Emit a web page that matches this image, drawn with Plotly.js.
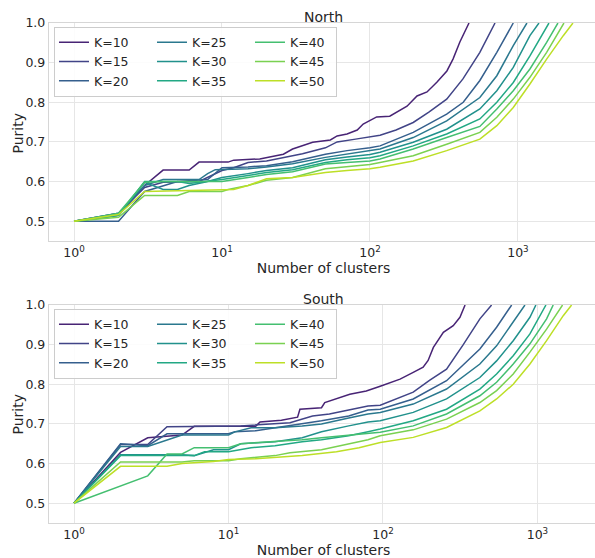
<!DOCTYPE html>
<html>
<head>
<meta charset="utf-8">
<script src="https://cdn.plot.ly/plotly-3.0.1.min.js"></script>
<style>
html,body{margin:0;padding:0;overflow:hidden;background:#fff;}
#chart{width:600px;height:558px;}
</style>
</head>
<body>
<div id="chart"></div>
<script>
// ---------- data ----------
const kLabels = ['K=10','K=15','K=20','K=25','K=30','K=35','K=40','K=45','K=50'];
const xTickVals = [1, 10, 100, 1000];
const xTickText = ['10<sup>0</sup>', '10<sup>1</sup>', '10<sup>2</sup>', '10<sup>3</sup>'];

// North panel: number of clusters (n) and purity (p)
const north_K10_n = [1,2,3,4,6,7,11,12,18,26,30,41,54,60,70,82,90,111,136,178,208,243,284,331,364,405,467];
const north_K10_p = [.5,.515,.59,.629,.629,.649,.649,.654,.657,.669,.682,.699,.705,.715,.72,.73,.745,.763,.765,.79,.816,.826,.851,.879,.909,.952,1.0];
const north_K15_n = [1,2,3,4,7,8,10,12,15,20,26,35,50,60,80,100,117,150,196,250,330,425,553,700];
const north_K15_p = [.5,.52,.585,.598,.60,.61,.628,.635,.648,.652,.66,.67,.685,.70,.707,.712,.717,.73,.749,.775,.808,.859,.926,1.0];
const north_K20_n = [1,2,3,4,5,8,9,10,15,20,30,50,70,100,117,196,330,427,553,720,930];
const north_K20_p = [.5,.50,.575,.59,.60,.605,.62,.635,.637,.64,.65,.669,.678,.685,.69,.724,.77,.80,.855,.926,1.0];
const north_K25_n = [1,2,3,4,7,8,9,15,20,30,50,70,100,117,196,330,553,720,930,1150];
const north_K25_p = [.5,.52,.59,.605,.605,.62,.63,.632,.637,.645,.661,.67,.678,.682,.711,.753,.812,.867,.943,1.0];
const north_K30_n = [1,2,3,4,5,6,8,10,15,20,30,50,70,100,117,196,330,553,720,930,1205,1387];
const north_K30_p = [.5,.515,.598,.58,.58,.59,.60,.61,.62,.628,.635,.655,.662,.668,.674,.699,.732,.783,.829,.888,.968,1.0];
const north_K35_n = [1,2,3,5,6,8,10,15,20,30,50,70,100,117,196,330,553,720,930,1205,1620];
const north_K35_p = [.5,.515,.60,.60,.595,.60,.605,.615,.623,.63,.648,.655,.66,.665,.69,.72,.758,.80,.85,.917,1.0];
const north_K40_n = [1,2,3,4,8,10,15,20,30,50,70,100,117,196,330,553,720,930,1205,1563,1863];
const north_K40_p = [.5,.52,.598,.60,.60,.60,.61,.618,.625,.644,.648,.652,.657,.682,.711,.739,.783,.829,.884,.951,1.0];
const north_K45_n = [1,2,3,5,6,10,11,15,20,30,50,70,100,117,196,330,553,720,930,1205,1563,2046];
const north_K45_p = [.5,.51,.565,.565,.575,.575,.58,.59,.603,.61,.632,.638,.643,.648,.665,.694,.724,.762,.808,.863,.926,1.0];
const north_K50_n = [1,2,3,8,10,12,15,20,30,50,70,100,117,196,330,553,720,930,1205,1563,2024,2353];
const north_K50_p = [.5,.517,.575,.578,.578,.58,.59,.607,.61,.623,.628,.632,.636,.652,.678,.707,.741,.787,.846,.909,.968,1.0];

// South panel
const south_K10_n = [1,2,3,4,5,6,15,16,22,28,29,40,42,61,78,96,129,157,182,196,212,246,285,315,340];
const south_K10_p = [.5,.628,.665,.668,.672,.694,.694,.705,.709,.717,.737,.741,.754,.775,.783,.795,.813,.83,.843,.86,.893,.931,.948,.969,1.0];
const south_K15_n = [1,2,3,4,12,14,20,25,35,45,60,80,96,157,200,258,331,424,505];
const south_K15_p = [.5,.648,.648,.693,.695,.697,.70,.703,.72,.725,.735,.745,.747,.78,.81,.838,.90,.965,1.0];
const south_K20_n = [1,2,3,4,10,11,15,20,30,40,60,80,96,157,258,424,544,681];
const south_K20_p = [.5,.65,.645,.675,.675,.68,.683,.69,.70,.708,.72,.735,.737,.763,.809,.889,.944,1.0];
const south_K25_n = [1,2,3,4,5,10,11,14,20,30,40,60,80,96,157,258,424,544,697,830];
const south_K25_p = [.5,.643,.643,.66,.672,.672,.68,.69,.69,.695,.70,.715,.725,.729,.75,.788,.851,.897,.956,1.0];
const south_K30_n = [1,2,5,6,8,10,12,20,30,40,60,80,96,157,258,424,544,697,894,977];
const south_K30_p = [.5,.622,.622,.62,.635,.635,.65,.655,.665,.68,.695,.705,.708,.729,.763,.817,.859,.91,.969,1.0];
const south_K35_n = [1,2,6,7,10,14,20,30,40,60,80,96,157,258,424,544,697,894,1135];
const south_K35_p = [.5,.62,.62,.63,.63,.64,.645,.655,.66,.67,.68,.687,.708,.737,.788,.826,.872,.927,1.0];
const south_K40_n = [1,2,3,4,5,6,10,12,20,30,40,60,80,96,157,258,424,544,697,894,1146,1265];
const south_K40_p = [.5,.543,.569,.624,.624,.64,.64,.65,.655,.66,.665,.672,.677,.679,.695,.725,.771,.805,.851,.902,.965,1.0];
const south_K45_n = [1,2,5,6,10,12,20,25,40,60,80,96,157,258,424,544,697,894,1146,1454];
const south_K45_p = [.5,.604,.604,.607,.607,.612,.62,.627,.635,.65,.66,.67,.685,.712,.754,.784,.826,.881,.939,1.0];
const south_K50_n = [1,2,4,5,8,10,15,20,30,50,70,96,157,258,424,544,697,894,1146,1469,1664];
const south_K50_p = [.5,.593,.593,.60,.605,.61,.612,.615,.62,.63,.64,.653,.666,.691,.733,.763,.80,.851,.91,.973,1.0];

const northN = [north_K10_n,north_K15_n,north_K20_n,north_K25_n,north_K30_n,north_K35_n,north_K40_n,north_K45_n,north_K50_n];
const northP = [north_K10_p,north_K15_p,north_K20_p,north_K25_p,north_K30_p,north_K35_p,north_K40_p,north_K45_p,north_K50_p];
const southN = [south_K10_n,south_K15_n,south_K20_n,south_K25_n,south_K30_n,south_K35_n,south_K40_n,south_K45_n,south_K50_n];
const southP = [south_K10_p,south_K15_p,south_K20_p,south_K25_p,south_K30_p,south_K35_p,south_K40_p,south_K45_p,south_K50_p];

// ---------- style ----------
const colors = ['#482475','#414487','#355f8d','#2a788e','#21918c','#22a884','#44bf70','#7ad151','#bddf26'];
const FONT = 'DejaVu Sans, sans-serif';
const TXT = '#262626';
const GRID = '#e6e6e6';
const FRAME = '#d6d6d6';

const traces = [];
function addPanel(ns, ps, xa, ya, leg, prefix) {
  for (let j = 0; j < kLabels.length; j++) {
    const t = {
      type: 'scatter', mode: 'lines',
      x: ns[j], y: ps[j], name: kLabels[j],
      xaxis: xa, yaxis: ya, legend: leg,
      legendgroup: prefix + Math.floor(j / 3),
      line: {color: colors[j], width: 1.5},
      hoverinfo: 'skip'
    };
    if (j >= 6) t.legendwidth = 41;
    traces.push(t);
  }
}
addPanel(northN, northP, 'x', 'y', 'legend', 'n');
addPanel(southN, southP, 'x2', 'y2', 'legend2', 's');

function xAxis(range, anchor) {
  return {
    type: 'log', range: range, anchor: anchor, domain: [0, 1],
    tickvals: xTickVals, ticktext: xTickText, ticks: '',
    showgrid: true, gridcolor: GRID, gridwidth: 1,
    showline: true, mirror: true, linecolor: FRAME, linewidth: 1.2,
    zeroline: false,
    tickfont: {family: FONT, size: 12.5, color: TXT},
    title: {text: 'Number of clusters', font: {family: FONT, size: 14, color: TXT}, standoff: 4}
  };
}
function yAxis(domain, anchor) {
  return {
    range: [0.45, 1.0], domain: domain, anchor: anchor,
    tick0: 0.5, dtick: 0.1, tickformat: '.1f', ticks: '',
    showgrid: true, gridcolor: GRID, gridwidth: 1,
    showline: true, mirror: true, linecolor: FRAME, linewidth: 1.2,
    zeroline: false,
    tickfont: {family: FONT, size: 12.5, color: TXT}
  };
}
function legendCfg(y) {
  return {
    orientation: 'h', x: 0.0091, xanchor: 'left', y: y, yanchor: 'top',
    bgcolor: 'rgba(255,255,255,0.85)', bordercolor: '#cccccc', borderwidth: 1,
    font: {family: FONT, size: 12.5, color: TXT},
    entrywidth: 53, entrywidthmode: 'pixels', tracegroupgap: 0, itemwidth: 30
  };
}
function txt(text, xpx, ypx, angle) {
  return {
    text: text, xref: 'paper', yref: 'paper',
    x: (xpx - 49) / 549, y: (523 - ypx) / 500,
    xanchor: 'center', yanchor: 'middle', showarrow: false, textangle: angle || 0,
    font: {family: FONT, size: 14, color: TXT}
  };
}

const layout = {
  width: 600, height: 558,
  margin: {l: 49, r: 2, t: 23, b: 35},
  paper_bgcolor: '#ffffff', plot_bgcolor: '#ffffff',
  font: {family: FONT, color: TXT},
  xaxis: xAxis([-0.169, 3.541], 'y'),
  yaxis: yAxis([0.564, 1], 'x'),
  xaxis2: xAxis([-0.162, 3.392], 'y2'),
  yaxis2: yAxis([0, 0.436], 'x2'),
  legend: legendCfg(0.993),
  legend2: legendCfg(0.429),
  annotations: [
    txt('North', 323.5, 16.5),
    txt('South', 323.5, 298.7),
    txt('Purity', 17.5, 133, -90),
    txt('Purity', 17.5, 414, -90)
  ],
  showlegend: true
};

Plotly.newPlot('chart', traces, layout, {displayModeBar: false, staticPlot: true});
</script>
</body>
</html>
